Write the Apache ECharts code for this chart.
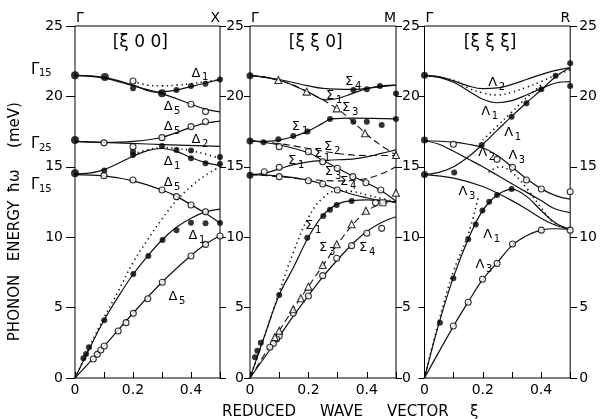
<!DOCTYPE html>
<html><head><meta charset="utf-8">
<script src="https://cdn.jsdelivr.net/npm/echarts/dist/echarts.min.js"></script>
<style>html,body{margin:0;padding:0;background:#fff}#c{width:600px;height:419px}</style>
</head><body><div id="c"></div>
<script>
// ---------- tick labels ----------
const yTickVals = [0,5,10,15,20,25];
const xTickVals = [0,0.2,0.4];
const xTickText = ['0','0.2','0.4'];
const panelNames = ['[ξ 0 0]','[ξ ξ 0]','[ξ ξ ξ]'];
const zoneEnds = ['X','M','R'];

// ---------- panel 1: [ξ00] (Δ) ----------
const D1_top = [[0,21.5],[0.1,21.35],[0.2,20.8],[0.28,20.3],[0.35,20.45],[0.4,20.7],[0.45,20.95],[0.5,21.2]];
const D5_top = [[0,21.5],[0.1,21.3],[0.2,20.75],[0.3,20.2],[0.4,19.45],[0.45,19.1],[0.5,18.9]];
const D5_mid = [[0,16.8],[0.1,16.72],[0.2,16.8],[0.3,17.1],[0.4,17.8],[0.45,18.1],[0.5,18.25]];
const D2_mid = [[0,16.8],[0.25,16.62],[0.5,16.45]];
const D1_mid = [[0,14.5],[0.05,14.55],[0.1,14.8],[0.15,15.25],[0.2,15.75],[0.25,16.15],[0.3,16.3],[0.35,16.1],[0.4,15.65],[0.45,15.3],[0.5,15.1]];
const D5_low = [[0,14.45],[0.1,14.35],[0.2,14.0],[0.3,13.35],[0.35,12.9],[0.4,12.3],[0.45,11.7],[0.5,11.0]];
const D1_LA = [[0,0],[0.05,2.1],[0.1,4.1],[0.15,5.8],[0.2,7.35],[0.25,8.65],[0.3,9.8],[0.35,10.7],[0.4,11.35],[0.45,11.8],[0.5,12.0]];
const D5_TA = [[0,0],[0.1,2.25],[0.2,4.6],[0.3,6.8],[0.4,8.7],[0.45,9.5],[0.5,10.1]];
const Ddot_top = [[0.2,21.1],[0.25,20.8],[0.3,20.75],[0.35,20.8],[0.4,20.9],[0.45,21.05],[0.5,21.2]];
const Ddot_mid = [[0.2,15.9],[0.25,16.2],[0.3,16.35],[0.35,16.3],[0.4,16.15],[0.45,15.9],[0.5,15.6]];
const Ddot_LA = [[0,0],[0.05,2.2],[0.1,4.3],[0.15,6.2],[0.2,8.2],[0.25,9.8],[0.3,11.3],[0.35,12.6],[0.4,13.6],[0.45,14.4],[0.5,15.0]];
const D_filled = [[0.2,20.57],[0.35,20.45],[0.4,20.74],[0.45,20.9],[0.5,21.2],[0.2,16.07],[0.2,15.84],[0.3,16.48],[0.35,16.2],[0.4,16.15],[0.4,15.6],[0.45,15.25],[0.5,15.7],[0.5,15.2],[0.101,14.73],[0.029,1.4],[0.038,1.7],[0.048,2.18],[0.101,4.1],[0.201,7.39],[0.253,8.66],[0.302,9.8],[0.35,10.5],[0.4,11.03],[0.45,10.99],[0.5,11.0]];
const D_big = [[0,21.5],[0.103,21.38],[0.3,20.22],[0,16.9],[0,14.54]];
const D_open = [[0.2,21.09],[0.4,19.44],[0.45,18.92],[0.1,16.7],[0.2,16.43],[0.3,17.07],[0.4,17.85],[0.45,18.2],[0.1,14.37],[0.2,14.06],[0.3,13.35],[0.35,12.88],[0.4,12.29],[0.45,11.8],[0.063,1.35],[0.077,1.68],[0.089,1.99],[0.101,2.27],[0.149,3.34],[0.176,3.93],[0.201,4.59],[0.251,5.63],[0.301,6.8],[0.4,8.66],[0.45,9.49],[0.5,10.08]];

// ---------- panel 2: [ξξ0] (Σ) ----------
const S4_top = [[0,21.5],[0.1,21.2],[0.2,20.75],[0.25,20.57],[0.35,20.5],[0.45,20.7],[0.5,20.8]];
const S1_top = [[0,21.5],[0.1,21.15],[0.2,20.3],[0.26,19.75],[0.3,19.85],[0.35,20.2],[0.4,20.55],[0.45,20.75],[0.5,20.8]];
const S3_top = [[0,21.5],[0.1,21.15],[0.2,20.3],[0.3,19.1],[0.35,18.25],[0.4,17.3],[0.45,16.5],[0.5,15.85]];
const S1_opt = [[0,16.85],[0.05,16.8],[0.1,16.9],[0.15,17.15],[0.2,17.55],[0.25,18.1],[0.28,18.4],[0.35,18.45],[0.5,18.4]];
const S2_mid = [[0,16.85],[0.1,16.65],[0.2,16.3],[0.3,15.95],[0.4,15.8],[0.5,15.8]];
const S3_mid = [[0,16.85],[0.1,16.55],[0.2,16.0],[0.25,15.45],[0.3,14.9],[0.35,14.35],[0.4,13.85],[0.45,13.3],[0.5,12.55]];
const S1_mid = [[0,14.45],[0.05,14.55],[0.1,14.85],[0.15,15.15],[0.2,15.35],[0.25,15.45],[0.3,15.5],[0.35,15.55],[0.4,15.7],[0.45,15.95],[0.5,16.2]];
const S3_low = [[0,14.45],[0.1,14.3],[0.2,14.1],[0.3,14.0],[0.38,14.1],[0.45,14.5],[0.5,15.0]];
const S4_mid = [[0,14.45],[0.1,14.35],[0.2,14.05],[0.25,13.75],[0.3,13.4],[0.35,13.05],[0.4,12.8],[0.45,12.6],[0.5,12.5]];
const S1_LA = [[0,0],[0.05,3.0],[0.1,5.9],[0.15,7.9],[0.2,10.0],[0.25,11.55],[0.3,12.35],[0.35,12.6],[0.4,12.65],[0.45,12.6],[0.5,12.5]];
const S4_TA = [[0,0],[0.1,2.95],[0.15,4.45],[0.2,5.85],[0.25,7.2],[0.3,8.4],[0.35,9.5],[0.4,10.4],[0.45,11.05],[0.5,11.45]];
const S3_TA = [[0,0],[0.1,3.35],[0.15,4.95],[0.2,6.5],[0.25,8.0],[0.3,9.5],[0.35,10.85],[0.4,11.85],[0.45,12.35],[0.5,12.5]];
const Sdot_LA = [[0,0],[0.05,3.0],[0.1,6.1],[0.15,9.0],[0.2,11.4],[0.25,12.8],[0.3,13.3],[0.35,13.25],[0.4,13.0],[0.45,12.75],[0.5,12.5]];
const S_filled = [[0.354,20.45],[0.4,20.5],[0.445,20.74],[0.5,20.2],[0.046,16.74],[0.097,16.95],[0.148,17.19],[0.197,17.5],[0.274,18.4],[0.354,18.2],[0.4,18.2],[0.451,17.97],[0.5,18.4],[0.196,9.96],[0.251,11.5],[0.274,11.95],[0.297,12.29],[0.348,12.57],[0.017,1.47],[0.025,1.94],[0.037,2.5],[0.1,5.9]];
const S_big = [[0,21.47],[0,16.83],[0,14.4]];
const S_open = [[0.1,16.43],[0.2,16.07],[0.249,15.36],[0.299,14.9],[0.352,14.3],[0.397,13.87],[0.448,13.35],[0.049,14.65],[0.1,14.96],[0.1,14.3],[0.2,14.01],[0.249,13.78],[0.299,13.35],[0.43,12.45],[0.451,10.63],[0.4,10.28],[0.348,9.4],[0.297,8.5],[0.249,7.27],[0.2,5.82],[0.148,4.59],[0.1,2.98],[0.091,2.77],[0.08,2.45],[0.068,2.18]];
const S_square = [[0.455,12.45]];
const S_tri = [[0.097,21.16],[0.194,20.34],[0.297,19.15],[0.394,17.38],[0.5,15.84],[0.5,13.16],[0.397,11.88],[0.348,10.92],[0.297,9.5],[0.249,8.03],[0.2,6.49],[0.174,5.66],[0.148,4.88],[0.1,3.36],[0.085,2.9]];

// ---------- panel 3: [ξξξ] (Λ) ----------
const L2_top = [[0,21.5],[0.05,21.4],[0.1,21.1],[0.15,20.75],[0.2,20.55],[0.25,20.6],[0.3,20.85],[0.35,21.2],[0.4,21.55],[0.45,21.85],[0.5,22.05]];
const L1_top = [[0,21.5],[0.05,21.35],[0.1,21.0],[0.15,20.4],[0.2,19.8],[0.25,19.55],[0.3,19.7],[0.35,20.1],[0.4,20.55],[0.45,20.95],[0.5,21.05]];
const L1_cross = [[0,14.45],[0.05,14.6],[0.1,15.0],[0.15,15.7],[0.2,16.6],[0.25,17.6],[0.3,18.6],[0.35,19.55],[0.4,20.45],[0.45,21.4],[0.5,22.05]];
const L3_up = [[0,16.85],[0.1,16.75],[0.15,16.6],[0.2,16.35],[0.25,15.8],[0.3,15.0],[0.35,14.15],[0.4,13.45],[0.45,12.95],[0.5,12.7]];
const L2_mid = [[0,16.85],[0.05,16.6],[0.1,16.1],[0.15,15.55],[0.2,15.0],[0.25,14.4],[0.3,13.8],[0.35,13.2],[0.4,12.6],[0.45,12.0],[0.5,11.75]];
const L3_low = [[0,14.45],[0.1,14.2],[0.2,13.6],[0.3,12.6],[0.35,12.0],[0.4,11.35],[0.45,10.85],[0.5,10.6]];
const L1_LA = [[0,0],[0.05,3.9],[0.1,7.2],[0.15,9.85],[0.2,11.9],[0.25,13.0],[0.3,13.4],[0.35,12.9],[0.4,11.9],[0.45,11.0],[0.5,10.55]];
const L3_TA = [[0,0],[0.1,3.7],[0.15,5.4],[0.2,7.0],[0.25,8.2],[0.3,9.4],[0.35,10.1],[0.4,10.5],[0.45,10.6],[0.5,10.55]];
const Ldot_top = [[0,21.5],[0.1,21.15],[0.15,20.6],[0.2,20.25],[0.25,20.1],[0.3,20.3],[0.35,20.65],[0.4,21.05],[0.45,21.5],[0.5,21.9]];
const Ldot_cross = [[0.2,16.9],[0.25,17.9],[0.3,18.9],[0.35,19.9],[0.4,20.8]];
const Ldot_mid = [[0.22,14.6],[0.26,15.0],[0.3,14.6],[0.35,13.5],[0.4,12.1],[0.45,10.9],[0.5,10.55]];
const Ldot_LA = [[0,0],[0.05,4.1],[0.1,7.6],[0.15,10.2],[0.185,12.9]];
const L_filled = [[0.45,21.47],[0.5,22.35],[0.5,20.74],[0.102,14.6],[0.196,16.55],[0.299,18.56],[0.35,19.51],[0.401,20.5],[0.053,3.93],[0.099,7.08],[0.15,9.85],[0.176,10.91],[0.199,11.9],[0.222,12.52],[0.249,13.0],[0.299,13.42]];
const L_big = [[0,21.5],[0,16.9],[0,14.45]];
const L_open = [[0.099,16.6],[0.249,15.53],[0.302,14.96],[0.35,14.06],[0.401,13.42],[0.5,13.23],[0.5,10.5],[0.401,10.5],[0.302,9.52],[0.249,8.14],[0.199,7.01],[0.15,5.38],[0.099,3.69]];

// ---------- annotations (symbol, subscript, panel, ξ, E) ----------
const branchLabels = [
 ['Δ','1',0,0.424,21.6],['Δ','5',0,0.328,19.25],['Δ','5',0,0.328,17.83],['Δ','2',0,0.424,16.9],
 ['Δ','1',0,0.328,15.34],['Δ','5',0,0.328,13.85],['Δ','1',0,0.414,10.09],['Δ','5',0,0.345,5.75],
 ['Σ','4',1,0.346,21.02],['Σ','1',1,0.281,20.03],['Σ','3',1,0.336,19.18],['Σ','1',1,0.164,17.83],
 ['Σ','2',1,0.274,16.41],['Σ','1',1,0.24,15.91],['Σ','1',1,0.151,15.41],['Σ','3',1,0.277,14.63],
 ['Σ','4',1,0.329,13.92],['Σ','1',1,0.209,10.8],['Σ','3',1,0.257,9.23],['Σ','4',1,0.394,9.23],
 ['Λ','2',2,0.241,20.95],['Λ','1',2,0.217,18.89],['Λ','1',2,0.296,17.4],['Λ','2',2,0.207,15.98],
 ['Λ','3',2,0.31,15.77],['Λ','3',2,0.139,13.21],['Λ','1',2,0.224,10.16],['Λ','3',2,0.197,8.03]
];
const gammaLabels = [['Γ','15',21.9],['Γ','25',16.6],['Γ','15',13.7]];

const FONT = 'DejaVu Sans';
const gridsPos = [{left:75,width:145},{left:250,width:146},{left:424.5,width:146}];

const chart = echarts.init(document.getElementById('c'), null, {renderer:'canvas'});

function xLabel(v){
  for (let i=0;i<xTickVals.length;i++) if (Math.abs(v-xTickVals[i])<1e-6) return xTickText[i];
  return '';
}
const grid = gridsPos.map(p => ({left:p.left, width:p.width, top:26, height:352, show:true, borderColor:'#000', borderWidth:1, backgroundColor:'transparent'}));
const xAxis = [0,1,2].map(g => ({type:'value', gridIndex:g, min:0, max:0.5, interval:0.1, position:'bottom',
  axisLine:{show:false}, splitLine:{show:false},
  axisTick:{show:true, inside:true, length:6, lineStyle:{color:'#000'}},
  axisLabel:{show:true, margin:5, formatter:xLabel, color:'#000', fontFamily:FONT, fontSize:14}}));
function yAx(g, pos, showLab, margin, tickLen){
  return {type:'value', gridIndex:g, min:0, max:25, interval:5, position:pos,
    axisLine:{show:false}, splitLine:{show:false},
    axisTick:{show:true, inside:false, length:tickLen, lineStyle:{color:'#000'}},
    axisLabel:{show:showLab, margin:margin, color:'#000', fontFamily:FONT, fontSize:14,
      formatter: v => (yTickVals.indexOf(v)>=0 ? String(v) : '')}};
}
const yAxis = [yAx(0,'left',true,12,9), yAx(0,'right',false,6,6),
               yAx(1,'left',true,6,6),  yAx(1,'right',true,6,6),
               yAx(2,'left',false,6,6), yAx(2,'right',true,9,7)];

function line(data,g,kind){
  let ls = {color:'#111', width:1.2, type:'solid'};
  if (kind==='dash') ls = {color:'#111', width:1.1, type:[7,4]};
  if (kind==='dot') ls = {color:'#111', width:1.6, type:[1.3,3.6]};
  return {type:'line', data, xAxisIndex:g, yAxisIndex:2*g, smooth:0.4, symbol:'none', lineStyle:ls, silent:true, z:2};
}
function pts(data,g,kind,size){
  let it = {color:'#000'}; let sym='circle';
  if (kind==='open') it = {color:'#fff', borderColor:'#000', borderWidth:1.1};
  if (kind==='tri') { it = {color:'#fff', borderColor:'#000', borderWidth:1.1}; sym='triangle'; }
  if (kind==='sq') { it = {color:'#fff', borderColor:'#000', borderWidth:1.1}; sym='rect'; }
  return {type:'scatter', data, xAxisIndex:g, yAxisIndex:2*g, symbol:sym, symbolSize:size||6, itemStyle:it, silent:true, z:4};
}
const series = [
  line(D1_top,0),line(D5_top,0),line(D5_mid,0),line(D2_mid,0),line(D1_mid,0),line(D5_low,0),line(D1_LA,0),line(D5_TA,0),
  line(Ddot_top,0,'dot'),line(Ddot_mid,0,'dot'),line(Ddot_LA,0,'dot'),
  pts(D_filled,0,'fill',6),pts(D_big,0,'fill',8),pts(D_open,0,'open',6),
  line(S4_top,1),line(S1_top,1),line(S3_top,1,'dash'),line(S1_opt,1),line(S2_mid,1,'dash'),line(S3_mid,1),
  line(S1_mid,1),line(S3_low,1,'dash'),line(S4_mid,1),line(S1_LA,1),line(S4_TA,1),line(S3_TA,1,'dash'),
  line(Sdot_LA,1,'dot'),
  pts(S_filled,1,'fill',6),pts(S_big,1,'fill',7),pts(S_open,1,'open',6),pts(S_square,1,'sq',6),pts(S_tri,1,'tri',7),
  line(L2_top,2),line(L1_top,2),line(L1_cross,2),line(L3_up,2),line(L2_mid,2),line(L3_low,2),line(L1_LA,2),line(L3_TA,2),
  line(Ldot_top,2,'dot'),line(Ldot_cross,2,'dot'),line(Ldot_mid,2,'dot'),line(Ldot_LA,2,'dot'),
  pts(L_filled,2,'fill',6),pts(L_big,2,'fill',7),pts(L_open,2,'open',6)
];

chart.setOption({animation:false, backgroundColor:'#fff', grid, xAxis, yAxis, series});

// ---------- text annotations ----------
const g = [];
function txt(x,y,t,size,align,vAlign,extra){
  const o = {type:'text', x:x, y:y, z:10, style:{text:t, fill:'#000', font: size+'px "'+FONT+'"', textAlign:align||'center', textVerticalAlign:vAlign||'middle', align:align||'center', verticalAlign:vAlign||'middle'}};
  return Object.assign(o, extra||{});
}
branchLabels.forEach(b => {
  const p = chart.convertToPixel({gridIndex:b[2]}, [b[3], b[4]]);
  g.push(txt(p[0]-2, p[1], b[0], 13, 'center'));
  g.push(txt(p[0]+4, p[1]+4, b[1], 10, 'left'));
});
gammaLabels.forEach(b => {
  const p = chart.convertToPixel({gridIndex:0}, [0, b[2]]);
  g.push(txt(31, p[1], b[0], 15, 'left'));
  g.push(txt(39, p[1]+4, b[1], 10, 'left'));
});
for (let k=0;k<3;k++){
  const tl = chart.convertToPixel({gridIndex:k}, [0, 25]);
  const tr = chart.convertToPixel({gridIndex:k}, [0.5, 25]);
  g.push(txt(tl[0]+1, tl[1]-8, 'Γ', 14, 'left'));
  g.push(txt(tr[0], tr[1]-8, zoneEnds[k], 14, 'right'));
  const c = chart.convertToPixel({gridIndex:k}, [0.225, 23.8]);
  g.push(txt(c[0], c[1], panelNames[k], 17, 'center'));
}
// axis titles
g.push(txt(15, 308, 'PHONON', 15, 'center', 'middle', {rotation:Math.PI/2}));
g.push(txt(15, 231, 'ENERGY', 15, 'center', 'middle', {rotation:Math.PI/2}));
g.push(txt(15, 181, 'ħω', 15, 'center', 'middle', {rotation:Math.PI/2}));
g.push(txt(15, 125, '(meV)', 15, 'center', 'middle', {rotation:Math.PI/2}));
g.push(txt(222, 412, 'REDUCED', 15, 'left'));
g.push(txt(320, 412, 'WAVE', 15, 'left'));
g.push(txt(387, 412, 'VECTOR', 15, 'left'));
g.push(txt(470, 412, 'ξ', 15, 'left'));
chart.setOption({graphic: g});
</script></body></html>
